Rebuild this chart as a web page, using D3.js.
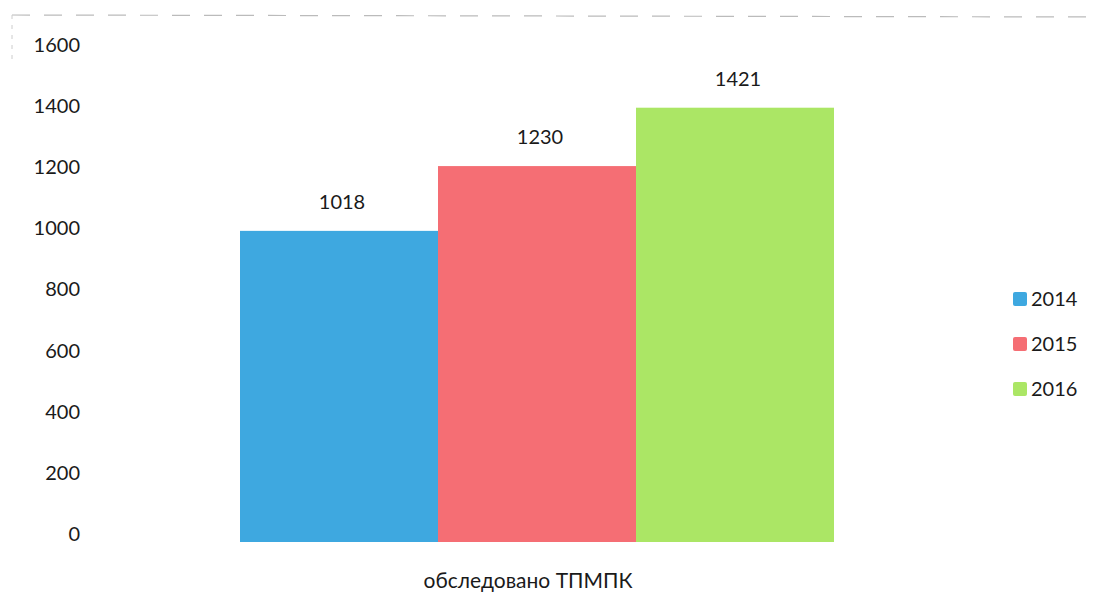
<!DOCTYPE html>
<html><head><meta charset="utf-8">
<script src="https://cdn.jsdelivr.net/npm/d3@7"></script>
<style>body{margin:0;background:#fff}text{font-family:Lato,"Open Sans",sans-serif;fill:#1a1a1a}</style>
</head><body>
<svg id="c" width="1109" height="596"></svg>
<script>
const category = "обследовано ТПМПК";
const years = ["2014", "2015", "2016"];
const values = [1018, 1230, 1421];
const colors = ["#3ea8e0", "#f56e74", "#abe665"];
const yTicks = [0, 200, 400, 600, 800, 1000, 1200, 1400, 1600];

const svg = d3.select("#c");
const y = d3.scaleLinear().domain([0, 1600]).range([542, 53]);
const x0 = d3.scaleBand().domain([category]).range([240, 834]).padding(0);
const x1 = d3.scaleBand().domain(years).range([0, x0.bandwidth()]).padding(0);

// faint scanned dashed border
svg.append("line").attr("x1", 12).attr("x2", 1100).attr("y1", 15).attr("y2", 17)
  .attr("stroke", "#bbb").attr("stroke-width", 1.2).attr("stroke-dasharray", "18,14");
svg.append("line").attr("x1", 12).attr("x2", 12).attr("y1", 15).attr("y2", 60)
  .attr("stroke", "#ccc").attr("stroke-width", 1).attr("stroke-dasharray", "4,6");

const yAxis = d3.axisLeft(y).tickValues(yTicks).tickFormat(d3.format("d")).tickSize(0).tickPadding(0);
const ga = svg.append("g").attr("transform", "translate(80,-8)").call(yAxis);
ga.select(".domain").remove();
ga.selectAll("text").style("font-size", "20px").style("font-family", "Lato, sans-serif").attr("fill", "#1a1a1a");

const g = svg.append("g").attr("transform", `translate(${x0(category)},0)`);
g.selectAll("rect").data(years).join("rect")
  .attr("x", d => x1(d)).attr("width", x1.bandwidth())
  .attr("y", (d, i) => y(values[i])).attr("height", (d, i) => y(0) - y(values[i]))
  .attr("fill", (d, i) => colors[i]);
g.selectAll("text.v").data(years).join("text").attr("class", "v")
  .attr("x", d => x1(d) + x1.bandwidth() / 2 + 3)
  .attr("y", (d, i) => y(values[i]) - 22)
  .attr("text-anchor", "middle").style("font-size", "20px")
  .text((d, i) => values[i]);

svg.append("text").attr("x", x0(category) + x0.bandwidth() / 2 - 9).attr("y", 588)
  .attr("text-anchor", "middle").style("font-size", "21px").text(category);

const lg = svg.append("g");
years.forEach((yr, i) => {
  const cy = 299 + i * 45;
  lg.append("rect").attr("x", 1013).attr("y", cy - 7).attr("width", 14).attr("height", 14)
    .attr("rx", 2).attr("fill", colors[i]);
  lg.append("text").attr("x", 1031).attr("y", cy + 7).style("font-size", "20px").text(yr);
});
</script>
</body></html>
